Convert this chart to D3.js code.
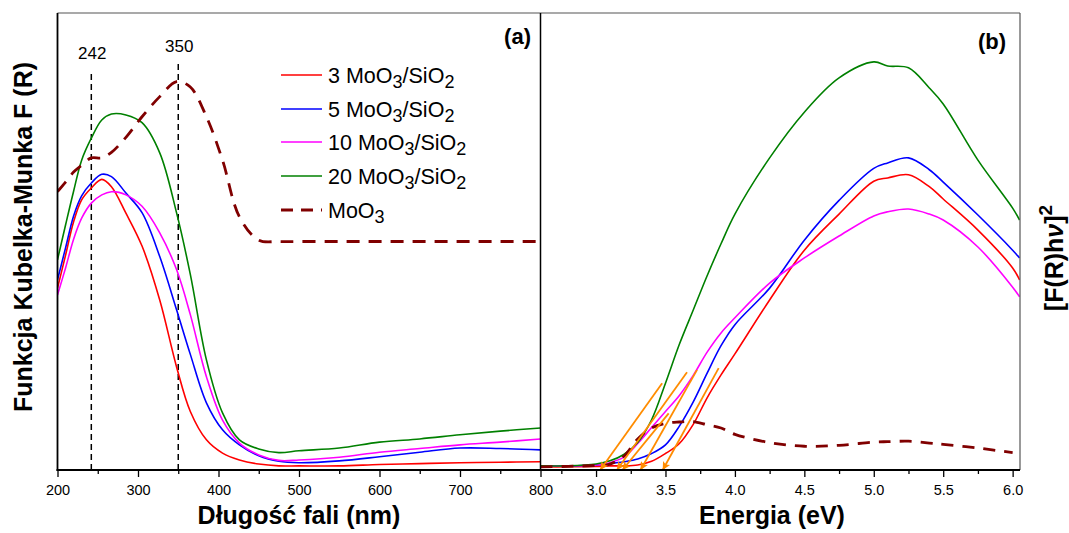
<!DOCTYPE html>
<html>
<head>
<meta charset="utf-8">
<script src="https://cdn.jsdelivr.net/npm/d3@7/dist/d3.min.js"></script>
<style>
  html, body { margin: 0; padding: 0; background: #fff; }
  svg { display: block; font-family: "Liberation Sans", Arial, sans-serif; }
</style>
</head>
<body>
<svg id="chart" width="1069" height="533"></svg>
<script>
// ---- Panel (a): Kubelka-Munka function vs wavelength ----
const wavelength = [200,210,220,230,242,255,267,285,305,327,348,365,385,405,426,450,475,500,550,600,650,700,750,800];
const km3  = [0.398,0.470,0.543,0.591,0.617,0.636,0.620,0.562,0.490,0.372,0.225,0.128,0.066,0.037,0.022,0.013,0.009,0.009,0.009,0.012,0.014,0.016,0.017,0.018];
const km5  = [0.416,0.486,0.556,0.600,0.628,0.647,0.642,0.606,0.563,0.467,0.350,0.253,0.147,0.088,0.055,0.031,0.019,0.016,0.020,0.029,0.039,0.048,0.047,0.044];
const km10 = [0.383,0.442,0.505,0.551,0.584,0.602,0.609,0.602,0.577,0.519,0.438,0.340,0.204,0.109,0.059,0.033,0.021,0.022,0.028,0.039,0.047,0.055,0.061,0.068];
const km20 = [0.460,0.536,0.610,0.678,0.726,0.766,0.779,0.777,0.760,0.694,0.562,0.428,0.241,0.125,0.066,0.046,0.038,0.042,0.048,0.061,0.068,0.077,0.085,0.092];
const kmMoO3 = [0.609,0.630,0.652,0.667,0.683,0.683,0.695,0.728,0.773,0.817,0.850,0.838,0.773,0.678,0.554,0.503,0.500,0.500,0.500,0.500,0.500,0.500,0.500,0.500];
const peakMarks = [242, 350];
const wlTicks = [200,300,400,500,600,700,800];

// ---- Panel (b): Tauc plot vs photon energy ----
const energy = [2.6,2.8,3.0,3.1,3.2,3.3,3.4,3.5,3.6,3.7,3.8,3.9,4.0,4.25,4.5,4.75,5.0,5.1,5.25,5.4,5.5,5.75,6.0,6.05];
const tauc3  = [0.007,0.007,0.008,0.009,0.009,0.011,0.019,0.036,0.058,0.100,0.158,0.208,0.254,0.372,0.481,0.560,0.632,0.639,0.646,0.620,0.593,0.525,0.442,0.416];
const tauc5  = [0.009,0.009,0.011,0.014,0.018,0.024,0.036,0.055,0.096,0.149,0.212,0.272,0.318,0.398,0.503,0.590,0.660,0.672,0.683,0.657,0.630,0.558,0.481,0.464];
const tauc10 = [0.009,0.009,0.011,0.016,0.028,0.058,0.093,0.128,0.163,0.207,0.258,0.300,0.333,0.409,0.464,0.512,0.556,0.565,0.571,0.560,0.547,0.488,0.400,0.379];
const tauc20 = [0.009,0.009,0.013,0.020,0.034,0.060,0.110,0.190,0.275,0.350,0.425,0.495,0.560,0.683,0.783,0.858,0.893,0.884,0.880,0.836,0.801,0.678,0.573,0.547];
const taucMoO3 = [0.007,0.008,0.010,0.013,0.030,0.068,0.092,0.102,0.105,0.106,0.099,0.092,0.078,0.060,0.052,0.054,0.061,0.062,0.063,0.059,0.056,0.048,0.038,null];
const eTicks = [3.0,3.5,4.0,4.5,5.0,5.5,6.0];

// Band-gap extrapolation lines: intercept energy, upper point (energy, value)
const gapSeries  = ["20", "10", "MoO3", "5", "3"];
const gapEnergy  = [3.03, 3.15, 3.19, 3.32, 3.48];
const gapTopE    = [3.476, 3.655, 3.523, 3.727, 3.883];
const gapTopVal  = [0.190, 0.214, 0.124, 0.219, 0.223];

const seriesNames  = ["3 MoO3/SiO2", "5 MoO3/SiO2", "10 MoO3/SiO2", "20 MoO3/SiO2", "MoO3"];
const seriesColors = ["#ff0000", "#0000ff", "#ff00ff", "#008000", "#800000"];

// ---- Layout ----
const plotTop = 13, plotBottom = 470;
const aL = 57.5, aR = 540.5, bL = 540.5, bR = 1020;

const svg = d3.select("#chart");

const xA = d3.scaleLinear().domain([200, 800]).range([aL, aR]);
const xB = d3.scaleLinear().domain([2.6, 6.053]).range([bL, bR]);
const yA = d3.scaleLinear().domain([0, 1]).range([plotBottom, plotTop]);
const yB = d3.scaleLinear().domain([0, 1]).range([plotBottom, plotTop]);

const defs = svg.append("defs");
defs.append("clipPath").attr("id", "clipA").append("rect")
  .attr("x", aL).attr("y", plotTop).attr("width", aR - aL).attr("height", plotBottom - plotTop);
defs.append("clipPath").attr("id", "clipB").append("rect")
  .attr("x", bL).attr("y", plotTop).attr("width", bR - bL).attr("height", plotBottom - plotTop);
defs.append("marker").attr("id", "arrow").attr("viewBox", "0 0 10 10")
  .attr("refX", 10).attr("refY", 5).attr("markerWidth", 10).attr("markerHeight", 8)
  .attr("markerUnits", "userSpaceOnUse").attr("orient", "auto")
  .append("path").attr("d", "M0,0 L10,5 L0,10 L2,5 Z").attr("fill", "#ff8c00");

// ---- Panel (a) curves ----
const gA = svg.append("g").attr("clip-path", "url(#clipA)");
const lineA = vals => d3.line()
  .defined((d, i) => vals[i] != null)
  .x((d, i) => xA(wavelength[i])).y((d, i) => yA(vals[i]))
  .curve(d3.curveCatmullRom.alpha(0.5))(wavelength);

// peak position markers
peakMarks.forEach((w, i) => {
  gA.append("line")
    .attr("x1", xA(w)).attr("x2", xA(w))
    .attr("y1", plotBottom).attr("y2", i === 0 ? 70 : 64)
    .attr("stroke", "#000").attr("stroke-width", 1.5).attr("stroke-dasharray", "6,4");
});

[km3, km5, km10, km20].forEach((vals, i) => {
  gA.append("path").attr("d", lineA(vals)).attr("fill", "none")
    .attr("stroke", seriesColors[i]).attr("stroke-width", 1.6);
});
gA.append("path").attr("d", lineA(kmMoO3)).attr("fill", "none")
  .attr("stroke", seriesColors[4]).attr("stroke-width", 2.8).attr("stroke-dasharray", "13,9");

peakMarks.forEach((w, i) => {
  svg.append("text").attr("x", xA(w) + 1).attr("y", i === 0 ? 58.5 : 52)
    .attr("text-anchor", "middle").attr("font-size", 17).attr("fill", "#000").text(w);
});

// ---- Panel (b) curves ----
const gB = svg.append("g").attr("clip-path", "url(#clipB)");
const lineB = vals => d3.line()
  .defined((d, i) => vals[i] != null)
  .x((d, i) => xB(energy[i])).y((d, i) => yB(vals[i]))
  .curve(d3.curveCatmullRom.alpha(0.5))(energy);

[tauc3, tauc5, tauc10, tauc20].forEach((vals, i) => {
  gB.append("path").attr("d", lineB(vals)).attr("fill", "none")
    .attr("stroke", seriesColors[i]).attr("stroke-width", 1.6);
});
gB.append("path").attr("d", lineB(taucMoO3)).attr("fill", "none")
  .attr("stroke", seriesColors[4]).attr("stroke-width", 2.8).attr("stroke-dasharray", "12,9");

gapEnergy.forEach((eg, i) => {
  svg.append("line")
    .attr("x1", xB(gapTopE[i])).attr("y1", yB(gapTopVal[i]))
    .attr("x2", xB(eg)).attr("y2", yB(0))
    .attr("stroke", "#ff8c00").attr("stroke-width", 1.8)
    .attr("marker-end", "url(#arrow)");
});

// ---- Frames ----
svg.append("line").attr("x1", aL).attr("x2", bR).attr("y1", plotTop).attr("y2", plotTop)
  .attr("stroke", "#555").attr("stroke-width", 1.2);
svg.append("line").attr("x1", bR).attr("x2", bR).attr("y1", plotTop).attr("y2", plotBottom)
  .attr("stroke", "#555").attr("stroke-width", 1.2);
svg.append("line").attr("x1", aL).attr("x2", aL).attr("y1", plotTop).attr("y2", plotBottom + 1)
  .attr("stroke", "#000").attr("stroke-width", 1.8);
svg.append("line").attr("x1", aR).attr("x2", aR).attr("y1", plotTop).attr("y2", plotBottom)
  .attr("stroke", "#000").attr("stroke-width", 1.5);

// ---- Axes ----
function drawAxis(scale, majors, minors, fmt) {
  const g = svg.append("g").attr("transform", `translate(0,${plotBottom})`);
  g.append("g").call(d3.axisBottom(scale).tickValues(minors).tickSize(4).tickSizeOuter(0).tickFormat(""));
  g.append("g").call(d3.axisBottom(scale).tickValues(majors).tickSize(7).tickSizeOuter(0).tickFormat(fmt));
  g.selectAll(".domain").remove();
  g.selectAll("line").attr("stroke", "#000").attr("stroke-width", 1.3);
  g.selectAll("text").attr("font-size", 14.5).attr("fill", "#000")
    .attr("font-family", "\"Liberation Sans\", Arial, sans-serif").attr("dy", "1.05em");
}
drawAxis(xA, wlTicks, [250,350,450,550,650,750], d3.format("d"));
drawAxis(xB, eTicks, [2.75,3.25,3.75,4.25,4.75,5.25,5.75], d3.format(".1f"));
svg.append("line").attr("x1", aL - 1).attr("x2", bR).attr("y1", plotBottom).attr("y2", plotBottom)
  .attr("stroke", "#000").attr("stroke-width", 1.8);

// ---- Panel labels ----
svg.append("text").attr("x", 531).attr("y", 44).attr("text-anchor", "end")
  .attr("font-size", 22).attr("font-weight", "bold").text("(a)");
svg.append("text").attr("x", 1006).attr("y", 49).attr("text-anchor", "end")
  .attr("font-size", 22).attr("font-weight", "bold").text("(b)");

// ---- Axis titles ----
svg.append("text").attr("x", 299).attr("y", 524).attr("text-anchor", "middle")
  .attr("font-size", 25).attr("font-weight", "bold").text("Długość fali (nm)");
svg.append("text").attr("x", 772).attr("y", 524).attr("text-anchor", "middle")
  .attr("font-size", 25).attr("font-weight", "bold").text("Energia (eV)");
svg.append("text").attr("transform", "translate(32,237) rotate(-90)").attr("text-anchor", "middle")
  .attr("font-size", 25).attr("font-weight", "bold").text("Funkcja Kubelka-Munka F (R)");
const yTitleB = svg.append("text").attr("transform", "translate(1063,258) rotate(-90)")
  .attr("text-anchor", "middle").attr("font-size", 25).attr("font-weight", "bold");
yTitleB.append("tspan").text("[F(R)h");
yTitleB.append("tspan").attr("font-style", "italic").text("ν");
yTitleB.append("tspan").text("]");
yTitleB.append("tspan").attr("font-size", 19).attr("dy", -11).text("2");

// ---- Legend ----
const legend = svg.append("g");
const legendY = [75, 109, 142, 176, 210];
seriesNames.forEach((name, i) => {
  const y = legendY[i];
  legend.append("line").attr("x1", 281).attr("x2", 322).attr("y1", y).attr("y2", y)
    .attr("stroke", seriesColors[i]).attr("stroke-width", i === 4 ? 2.8 : 1.6)
    .attr("stroke-dasharray", i === 4 ? "12,8" : null);
  const t = legend.append("text").attr("x", 328).attr("y", y + 8).attr("font-size", 21.5).attr("fill", "#000");
  // chemical formula with subscripts
  const m = name.match(/^(.*MoO)3(\/SiO)?(2)?$/);
  t.append("tspan").text(m[1]);
  t.append("tspan").attr("font-size", 18).attr("dy", 5).text("3");
  if (m[2]) {
    t.append("tspan").attr("dy", -5).text(m[2]);
    t.append("tspan").attr("font-size", 18).attr("dy", 5).text("2");
  }
});
</script>
</body>
</html>
